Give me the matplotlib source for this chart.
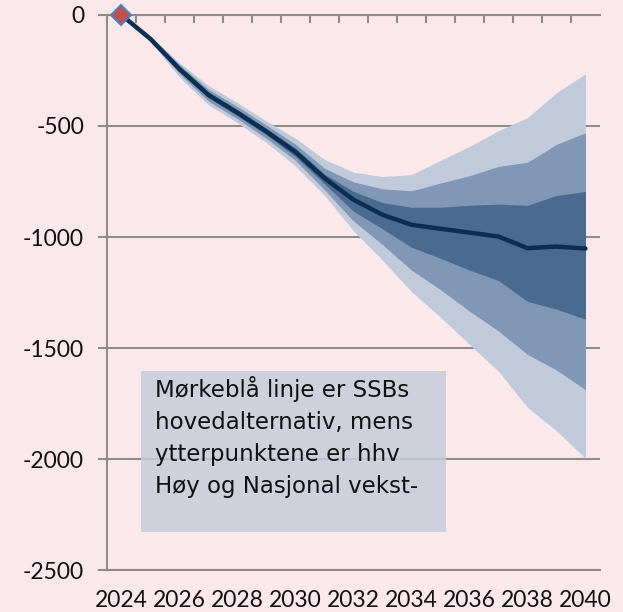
import numpy as np
import matplotlib.pyplot as plt
from matplotlib.patches import Rectangle
from matplotlib.ticker import FixedLocator

plt.rcParams['axes.unicode_minus'] = False

years = np.arange(2024, 2041)
central = [0, -108, -243, -360, -440, -525, -617, -735, -832, -900, -945, -963, -980, -998, -1050, -1043, -1052]
outer_hi = [0, -95, -215, -318, -395, -478, -555, -650, -708, -728, -719, -655, -592, -521, -462, -350, -265]
outer_lo = [0, -120, -280, -405, -485, -575, -680, -812, -972, -1104, -1246, -1361, -1484, -1605, -1767, -1873, -1997]
mid_hi = [0, -99, -224, -335, -412, -496, -582, -690, -752, -783, -792, -757, -724, -682, -663, -583, -530]
mid_lo = [0, -116, -265, -388, -468, -556, -655, -787, -928, -1034, -1149, -1237, -1334, -1423, -1529, -1599, -1688]
in_hi = [0, -103, -233, -348, -427, -512, -600, -716, -795, -845, -866, -866, -857, -852, -857, -813, -795]
in_lo = [0, -112, -255, -373, -454, -540, -637, -760, -884, -963, -1046, -1096, -1149, -1196, -1290, -1325, -1370]

yticks = [0, -500, -1000, -1500, -2000, -2500]
ylabels = ['0', '-500', '-1000', '-1500', '-2000', '-2500']
xticks = [2024, 2026, 2028, 2030, 2032, 2034, 2036, 2038, 2040]
note = 'Mørkeblå linje er SSBs\nhovedalternativ, mens\nytterpunktene er hhv\nHøy og Nasjonal vekst-'

bg = '#FBE8EB'
grid_c = '#8C8C8C'

fig = plt.figure(figsize=(6.23, 6.12), dpi=100, facecolor=bg)
ax = fig.add_axes([0.1717, 0.0686, 0.7913, 0.9069])
ax.set_facecolor(bg)

ax.fill_between(years, outer_lo, outer_hi, color='#C0CADB', lw=0, zorder=2)
ax.fill_between(years, mid_lo, mid_hi, color='#8097B6', lw=0, zorder=3)
ax.fill_between(years, in_lo, in_hi, color='#4A6A90', lw=0, zorder=4)
ax.plot(years, central, color='#0B2E52', lw=3.2, zorder=5, solid_capstyle='round')
ax.plot(years[:1], central[:1], marker='D', ms=10, mfc='#C0504D', mec='#4F81BD', mew=1.5, zorder=6, clip_on=False)

ax.set_xlim(2023.5, 2040.5)
ax.set_ylim(-2500, 0)
ax.set_yticks(yticks)
ax.set_yticklabels(ylabels, fontsize=16.5, family='Lato', color='#111111')
ax.set_xticks(xticks)
ax.set_xticklabels([str(x) for x in xticks], fontsize=16.5, family='Lato', color='#111111')
ax.xaxis.set_minor_locator(FixedLocator(np.arange(2024.5, 2040.5, 1)))

ax.grid(axis='y', color=grid_c, lw=1.5, zorder=1)
ax.tick_params(axis='y', length=6.5, width=1.5, color=grid_c, pad=10)
ax.tick_params(axis='x', which='major', bottom=False, top=False, pad=11)
ax.tick_params(axis='x', which='minor', bottom=False, top=True, direction='in', length=6, width=1.5, color=grid_c)

ax.spines['right'].set_visible(False)
for s in ['left', 'top', 'bottom']:
    ax.spines[s].set_color(grid_c)
    ax.spines[s].set_linewidth(1.5)

fig.patches.append(Rectangle((141 / 623, 1 - 532 / 612), 305 / 623, 161 / 612,
                             transform=fig.transFigure, facecolor='#C6CDDA', alpha=0.85,
                             edgecolor='none', zorder=7))
fig.text(155 / 623, 1 - 376 / 612, note, fontsize=16.5, family='DejaVu Sans',
         va='top', ha='left', linespacing=1.5, color='#111111', zorder=8)

fig.savefig('out.png', dpi=100, facecolor=bg)
